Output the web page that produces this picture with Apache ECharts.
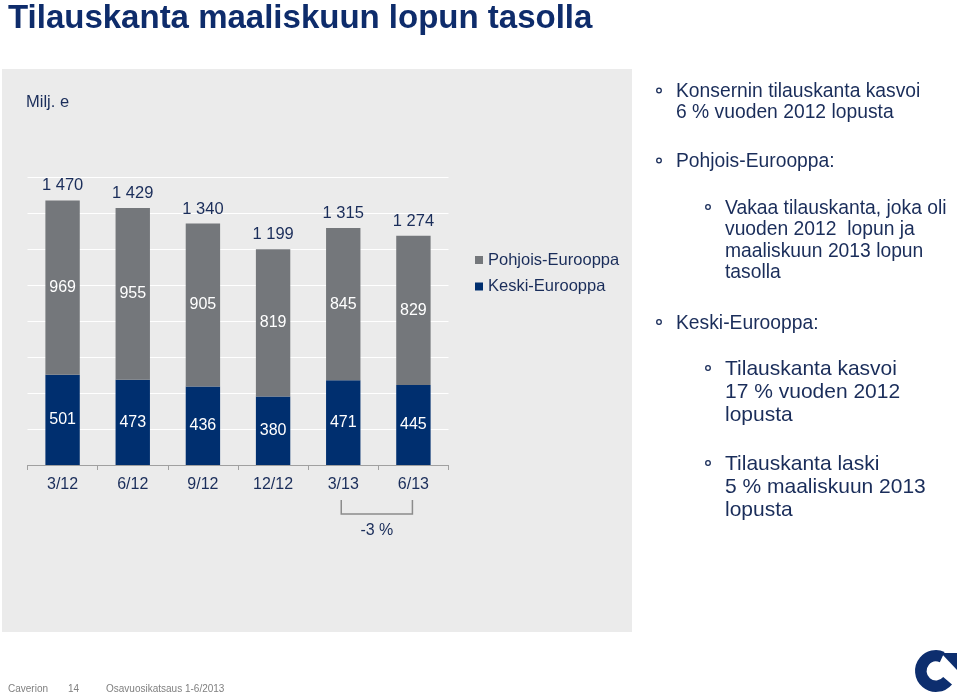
<!DOCTYPE html>
<html><head><meta charset="utf-8">
<script src="https://cdn.jsdelivr.net/npm/echarts@6/dist/echarts.min.js"></script>
<style>html,body{margin:0;padding:0;background:#fff}#c{width:960px;height:698px}</style>
</head><body><div id="c"></div>
<script>
// ---- data ----
const categories = ['3/12', '6/12', '9/12', '12/12', '3/13', '6/13'];
const pohjoisEurooppa = [969, 955, 905, 819, 845, 829];
const keskiEurooppa = [501, 473, 436, 380, 471, 445];
const totals = [1470, 1429, 1340, 1199, 1315, 1274];
const yMin = 0, yMax = 1600, yInterval = 200;
const seriesNames = ['Pohjois-Eurooppa', 'Keski-Eurooppa'];
const changeLabel = '-3 %';

// ---- text ----
const titleText = 'Tilauskanta maaliskuun lopun tasolla';
const unitText = 'Milj. e';
const bullets = [
  { level: 1, lines: ['Konsernin tilauskanta kasvoi', '6 % vuoden 2012 lopusta'], y: 91, size: 19.3, lh: 20.5 },
  { level: 1, lines: ['Pohjois-Eurooppa:'], y: 161, size: 19.3, lh: 20.5 },
  { level: 2, lines: ['Vakaa tilauskanta, joka oli', 'vuoden 2012  lopun ja', 'maaliskuun 2013 lopun', 'tasolla'], y: 207.5, size: 19.3, lh: 21.4 },
  { level: 1, lines: ['Keski-Eurooppa:'], y: 322.5, size: 19.3, lh: 20.5 },
  { level: 2, lines: ['Tilauskanta kasvoi', '17 % vuoden 2012', 'lopusta'], y: 368.5, size: 21, lh: 23 },
  { level: 2, lines: ['Tilauskanta laski', '5 % maaliskuun 2013', 'lopusta'], y: 463.5, size: 21, lh: 23 }
];
const footer = [['Caverion', 8], ['14', 68], ['Osavuosikatsaus 1-6/2013', 106]];

const NAVY = '#002f6f', GREY = '#74777b', TXT = '#1a2d5a', FONT = '"Liberation Sans", Arial, sans-serif';
const fmt = v => String(v).replace(/\B(?=(\d{3})+(?!\d))/g, ' ');

const graphics = [
  { type: 'rect', z: -100, shape: { x: 2, y: 69, width: 630, height: 563 }, style: { fill: '#ebebeb' } },
  { type: 'text', style: { x: 8, y: 18.5, text: titleText, font: 'bold 33px ' + FONT, fill: '#0e2c6b', verticalAlign: 'middle' } },
  { type: 'text', style: { x: 26, y: 102, text: unitText, font: '16.5px ' + FONT, fill: TXT, verticalAlign: 'middle' } }
];
bullets.forEach(b => {
  const tx = b.level === 1 ? 676 : 725;
  const bx = b.level === 1 ? 659 : 708;
  graphics.push({ type: 'circle', shape: { cx: bx, cy: b.y - 0.5, r: 2.3 }, style: { fill: 'none', stroke: TXT, lineWidth: 1.3 } });
  b.lines.forEach((ln, i) => {
    graphics.push({ type: 'text', style: { x: tx, y: b.y + 1 + i * b.lh, text: ln, font: b.size + 'px ' + FONT, fill: TXT, verticalAlign: 'middle' } });
  });
});
footer.forEach(f => graphics.push({ type: 'text', style: { x: f[1], y: 689, text: f[0], font: '10px ' + FONT, fill: '#808080', verticalAlign: 'middle' } }));
// logo
graphics.push({ type: 'arc', shape: { cx: 936, cy: 671, r: 15.2, startAngle: 0.7, endAngle: 2 * Math.PI - 1.15, clockwise: true }, style: { stroke: '#0d2e6e', lineWidth: 11.5, fill: 'none' } });
graphics.push({ type: 'polygon', shape: { points: [[941, 653], [957, 653], [957, 670]] }, style: { fill: '#0d2e6e' } });

const chart = echarts.init(document.getElementById('c'), null, { renderer: 'canvas' });
chart.setOption({
  animation: false,
  backgroundColor: 'transparent',
  textStyle: { fontFamily: FONT },
  grid: { left: 27.5, right: 511.5, top: 177, bottom: 233, containLabel: false },
  legend: {
    data: seriesNames, orient: 'vertical', left: 475, top: 251.5, padding: 0, itemWidth: 8, itemHeight: 8, itemGap: 9.5,
    icon: 'rect', textStyle: { color: TXT, fontSize: 16.5, fontFamily: FONT, lineHeight: 17 }
  },
  xAxis: {
    type: 'category', data: categories,
    axisLine: { lineStyle: { color: '#a0a0a0', width: 1 } },
    axisTick: { show: true, length: 5, lineStyle: { color: '#a0a0a0' } },
    axisLabel: { color: TXT, fontSize: 16, margin: 12, fontFamily: FONT }
  },
  yAxis: {
    type: 'value', min: yMin, max: yMax, interval: yInterval,
    axisLine: { show: false }, axisTick: { show: false }, axisLabel: { show: false },
    splitLine: { lineStyle: { color: '#ffffff', width: 1 } }
  },
  series: [
    { name: seriesNames[1], type: 'bar', stack: 's', data: keskiEurooppa, barWidth: '49%', itemStyle: { color: NAVY },
      label: { show: true, position: 'inside', color: '#fff', fontSize: 16, fontFamily: FONT } },
    { name: seriesNames[0], type: 'bar', stack: 's', data: pohjoisEurooppa, barWidth: '49%', itemStyle: { color: GREY },
      label: { show: true, position: 'inside', color: '#fff', fontSize: 16, fontFamily: FONT } },
    { name: 'total', type: 'bar', stack: 's', data: totals.map(() => 0), barWidth: '49%', itemStyle: { color: 'transparent' },
      label: { show: true, position: 'top', distance: 6, color: TXT, fontSize: 16.5, fontFamily: FONT,
        formatter: p => fmt(totals[p.dataIndex]) } }
  ],
  graphic: graphics
});

// bracket between the last two categories
const xa = chart.convertToPixel({ xAxisIndex: 0 }, categories[4]);
const xb = chart.convertToPixel({ xAxisIndex: 0 }, categories[5]);
const x1 = xa - 2, x2 = xb - 1;
graphics.push({ type: 'polyline', shape: { points: [[x1, 500], [x1, 514], [x2, 514], [x2, 500]] }, style: { stroke: '#8c8c8c', lineWidth: 1.5, fill: null } });
graphics.push({ type: 'text', style: { x: (x1 + x2) / 2, y: 531, text: changeLabel, font: '16px ' + FONT, fill: TXT, align: 'center', verticalAlign: 'middle' } });
chart.setOption({ graphic: graphics });
</script>
</body></html>
